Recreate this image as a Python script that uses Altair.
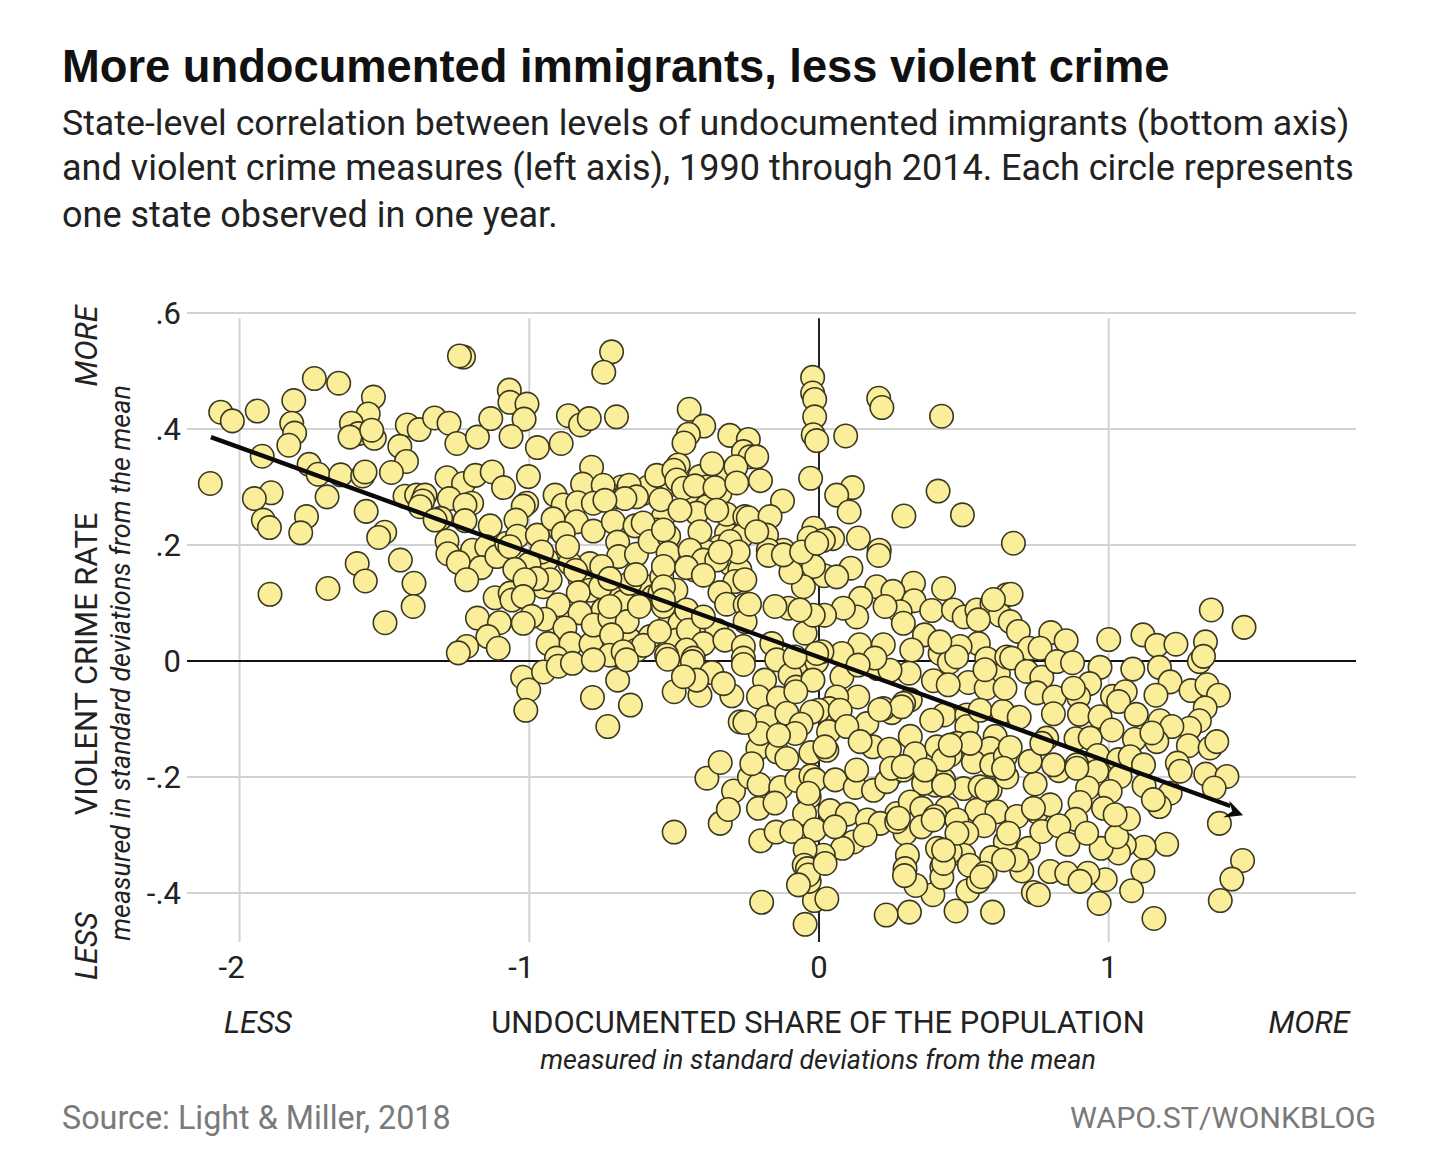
import altair as alt
import pandas as pd

west = [(-1.227,.524),(-1.241,.526),(-1.742,.487),(-1.658,.479),(-1.538,.455),(-1.813,.449),(-2.065,.429),(-2.025,.414),(-1.939,.431),
(-1.556,.426),(-1.820,.410),(-1.614,.410),(-1.810,.393),(-1.830,.372),(-1.590,.392),(-1.535,.384),(-1.619,.386),(-1.544,.398),
(-1.421,.407),(-1.380,.399),(-1.327,.419),(-1.277,.410),(-1.250,.375),(-1.179,.386),(-1.133,.418),(-1.447,.370),(-1.424,.344),(-1.476,.325),
(-1.922,.353),(-2.101,.306),(-1.760,.339),(-1.729,.322),(-1.698,.283),(-1.651,.321),(-1.575,.319),(-1.567,.326),
(-1.891,.290),(-1.949,.280),(-1.918,.243),(-1.897,.230),(-1.769,.249),(-1.789,.221),(-1.563,.258),(-1.499,.222),(-1.520,.213),
(-1.594,.168),(-1.566,.138),(-1.445,.174),(-1.398,.134),(-1.401,.094),(-1.498,.066),(-1.895,.115),(-1.695,.125),
(-1.284,.316),(-1.227,.306),(-1.186,.320),(-1.128,.326),(-1.089,.299),(-1.429,.284),(-1.389,.286),(-1.360,.286),(-1.368,.276),(-1.377,.266),
(-1.276,.280),(-1.199,.272),(-1.222,.269),(-1.306,.246),(-1.325,.243),(-1.222,.242),(-1.135,.233),
(-1.284,.207),(-1.281,.185),(-1.196,.191),(-1.147,.197),(-1.245,.170),(-1.167,.161),(-1.112,.180),(-1.216,.140),(-1.078,.203),
(-1.118,.109),(-1.066,.117),(-1.060,.105),(-1.179,.074),(-1.103,.066),(-1.143,.042),(-1.216,.025),(-1.245,.014),(-1.107,.022)]

mid_west = [(-.716,.533),(-.743,.498),(-1.069,.467),(-1.067,.446),(-1.008,.443),(-1.018,.417),(-1.063,.387),(-.972,.368),(-.890,.375),
(-.865,.423),(-.823,.407),(-.793,.418),(-.699,.421),(-.448,.434),(-.398,.405),(-.451,.391),(-.466,.376),(-.308,.389),(-.244,.382),(-.261,.361),(-.238,.352),
(-.785,.334),(-.816,.305),(-.745,.303),(-.655,.303),(-.630,.283),(-.670,.280),(-.681,.286),(-.560,.320),(-.486,.338),(-.501,.329),(-.491,.312),(-.468,.298),(-.428,.302),(-.369,.340),(-.359,.299),(-.287,.335),(-.284,.307),(-.546,.278),(-.480,.260),
(-1.003,.318),(-1.009,.272),(-1.021,.267),(-1.046,.243),(-1.041,.215),(-.972,.217),(-.911,.286),(-.883,.269),(-.833,.273),(-.779,.272),(-.739,.277),(-.918,.245),(-.837,.240),(-.779,.224),(-.710,.240),(-.635,.233),(-.607,.238),(-.695,.205),(-.692,.180),(-.630,.184),(-.583,.206),(-.519,.215),(-.537,.226),(-.411,.223),(-.521,.186),(-.445,.191),(-.319,.253),(-.353,.260),(-.256,.249),(-.267,.215),(-.307,.206),(-.279,.188),
(-.883,.220),(-.868,.197),(-.957,.188),(-1.067,.197),(-1.001,.167),(-1.050,.158),(-.928,.140),(-.975,.142),(-1.015,.140),(-.840,.156),(-.796,.168),(-.750,.163),(-.754,.128),(-.722,.142),(-.632,.149),(-.543,.145),(-.537,.163),(-.430,.157),(-.399,.174),(-.353,.174),(-.457,.161),(-.399,.148),(-.494,.122),(-.537,.128),(-.290,.137),(-.256,.140),(-.342,.118),(-.319,.098),(-.255,.097),
(-1.052,.106),(-1.067,.117),(-1.021,.111),(-.831,.118),(-.900,.097),(-.825,.083),(-.946,.072),(-.992,.077),(-1.021,.065),(-.877,.057),(-.935,.030),(-.856,.030),(-.787,.029),(-.779,.062),(-.722,.074),(-.662,.068),(-.716,.045),(-.722,.094),(-.620,.094),(-.606,.027),(-.551,.051),(-.537,.094),(-.457,.088),(-.451,.053),(-.399,.076),(-.399,.030),(-.457,.019),(-.325,.036),(-.261,.025),(-.255,.068),(-.526,.010),(-.434,.005),(-.722,.010),(-.676,.016),(-.261,.005),(-.906,.005)]

center_top = [(-.022,.489),(-.022,.462),(-.015,.451),(-.015,.421),(-.008,.418),(-.020,.390),(-.008,.380),(.092,.388),(.206,.453),(.217,.437),(.423,.422),(-.241,.381),(-.215,.352),(-.202,.311),(-.029,.315),(.115,.299),(.061,.286),(.104,.257),(.411,.293),(.293,.250),(.495,.252),(.671,.203),(-.126,.276),(-.244,.247),(-.169,.249),(-.181,.217),(-.018,.229),(-.034,.212),(.047,.211),(.015,.208),(.136,.212),(-.256,.217),(-.123,.191),(-.175,.191),(.208,.191)]

lower_left = [(-1.023,-.028),(-1.002,-.050),(-1.012,-.085),(-.951,-.019),(-.900,-.009),(-.851,-.004),(-.779,.002),(-.723,.006),(-.675,.012),(-.934,.024),(-.859,.027),(-.788,.027),(-.606,.025),(-.695,-.033),(-.782,-.063),(-.651,-.076),(-.729,-.113),(-.522,.003),(-.500,-.053),(-.437,-.001),(-.370,-.020),(-.411,-.059),(-.457,.016),(-.387,-.202),(-.341,-.175),(-.500,-.295),(-.341,-.280),(-.422,-.033),(-.468,-.027)]

center = [(.206,.182),(.326,.134),(.430,.125),(.199,.128),(.255,.120),(.328,.104),(.389,.087),(.280,.085),(.228,.094),(.291,.065),(.364,.045),(.464,.088),(.501,.076),(.545,.088),(.597,.099),(.648,.114),(.625,.079),(.660,.068),(.550,.071),
(.140,.028),(.222,.028),(.320,.019),(.418,.013),(.450,-.002),(.550,.030),(.487,.025),(.619,-.022),(.516,-.037),(.395,-.034),(.311,-.021),(.202,-.013),(.245,-.016),(.079,.013),(.579,.004),(.648,.007),(.577,-.047),
(.110,.160),(.144,.108),(.130,.076),(.084,.091),(.018,.147),(.061,.145),(.019,.079),(-.019,.163),(-.054,.128),(-.097,.153),(-.105,.091),(-.152,.094),(-.048,.048),(-.175,.182),(-.123,.183),(-.276,.187),(-.341,.188),(-.422,.156),(-.249,.140),(-.401,.151),(-.316,.098),(-.341,.119),(-.240,.098),(-.244,.067),(-.399,.076),(-.163,.030),(-.261,.025),(-.318,.039),(-.399,.030),(-.433,.048),(-.428,-.004),(-.367,-.020),(-.261,-.006),(-.146,.002),(-.077,-.004),(-.008,-.001),(.079,-.027),(.010,.016),
(-.188,-.033),(-.100,-.024),(-.079,-.045),(-.021,-.033),(-.408,-.059),(-.301,-.060),(-.209,-.062),(-.140,-.064),(-.330,-.039),(.134,-.062),(.061,-.062),(.035,-.082),(-.002,-.085),(-.025,-.088),(.073,-.085),(.251,-.089),(.222,-.082),(.165,-.108),(.315,-.067),(.292,-.073),(.432,-.093),(.389,-.102),(.510,-.093),(.510,-.113),(.556,-.085),(.634,-.087),(.608,-.130),
(-.272,-.105),(-.180,-.097),(-.111,-.090),(-.062,-.109),(.033,-.122),(-.082,-.125),(.096,-.113),(-.211,-.151),(-.144,-.157),(-.111,-.168),(-.028,-.158),(.027,-.154),(-.203,-.125),(-.140,-.128),(.186,-.148),(.243,-.152),(.315,-.130),(.332,-.160),(.433,-.163),(.407,-.148),(.476,-.142),(.591,-.151),(.533,-.174),(.596,-.179),(.643,-.165),(.522,-.142),(.142,-.139),
(-.336,-.175),(-.385,-.204),(-.295,-.224),(-.240,-.200),(-.207,-.213),(-.232,-.177),(-.132,-.218),(-.077,-.206),(-.028,-.198),(-.013,-.205),(.056,-.205),(.125,-.218),(.130,-.188),(.188,-.223),(.251,-.195),(.234,-.208),(.291,-.188),(.401,-.214),(.361,-.211),(.430,-.205),(.499,-.220),(.556,-.217),(.591,-.222),(.648,-.200),
(-.313,-.256),(-.341,-.282),(-.209,-.254),(-.152,-.245),(-.034,-.234),(-.050,-.263),(.038,-.258),(.098,-.264),(.167,-.274),(.268,-.263),(.315,-.243),(.355,-.254),(.441,-.254),(.401,-.268),(.545,-.257),(.614,-.260),(.570,-.284),(.476,-.274),(.297,-.297),(.510,-.297),(.643,-.312),(.211,-.280),(.268,-.277),
(-.201,-.310),(-.148,-.295),(-.094,-.294),(-.015,-.291),(.119,-.312),(.081,-.323),(.015,-.335),(-.048,-.325),(-.051,-.352),(-.040,-.358),(.305,-.335),(.409,-.323),(.499,-.335),(.596,-.339),(.453,-.329),(.297,-.358),(.424,-.355)]

bottom = [(-.198,-.416),(-.048,-.454),(-.016,-.413),(.027,-.410),(-.034,-.380),(-.037,-.369),(-.052,-.356),(-.071,-.386),(.232,-.438),(.312,-.433),(.473,-.431),(.599,-.433),(.393,-.403),(.334,-.387),(.295,-.370),(.306,-.334),(.424,-.373),(.514,-.396),(.550,-.380),(.430,-.349),(.502,-.336),(.519,-.352),(.573,-.366),(.654,-.315),(.700,-.362),(.740,-.399),(.757,-.403),(.723,-.323),(.798,-.363),(.683,-.343),(.637,-.343),(.015,-.337),(.021,-.349),(-.052,-.325),(.683,-.268),(.752,-.260),(.769,-.294),(.746,-.212),(.798,-.248)]

east = [(1.354,.088),(1.467,.058),(1.000,.037),(1.118,.045),(1.166,.027),(1.232,.029),(1.334,.033),(1.313,-.001),(1.327,.008),
(.663,.115),(.602,.106),(.545,.091),(.502,.077),(.464,.085),(.550,.071),(.625,.080),(.668,.068),(.688,.051),(.441,.123),(.800,.049),(.853,.035),(.726,.022),(.763,.022),(.665,.005),(.550,.031),(.487,.025),(.453,-.002),(.573,.005),(.622,-.022),(.717,-.018),(.769,-.028),(.821,-.001),(.875,-.003),(.970,-.011),(1.083,-.014),(1.175,-.011),(.934,-.039),(1.212,-.036),(1.284,-.051),(1.339,-.041),(1.379,-.059),(1.163,-.059),(1.013,-.061),(1.057,-.053),(1.034,-.070),(.518,-.037),(.642,-.047),(.573,-.050),(.752,-.055),(.812,-.062),(.896,-.062),(.878,-.047),(1.333,-.081),(1.095,-.092),(1.177,-.103),(1.313,-.103),(1.279,-.116),(1.218,-.113),(.809,-.091),(.691,-.097),(.629,-.087),(.899,-.092),(.970,-.096),(.516,-.093),(.550,-.087),(1.011,-.119),(1.166,-.139),(1.275,-.146),(1.350,-.150),(1.373,-.139),(1.089,-.135),(1.149,-.124),
(.887,-.134),(.936,-.133),(.786,-.133),(.608,-.130),(.660,-.149),(.591,-.150),(.729,-.173),(.453,-.162),(.533,-.173),(.637,-.185),(.596,-.181),(.962,-.163),(1.034,-.170),(1.074,-.165),(1.120,-.179),(.828,-.189),(.809,-.179),(.890,-.179),(.959,-.190),(1.039,-.199),(1.122,-.215),(1.237,-.176),(1.247,-.190),(1.335,-.195),(1.408,-.199),(1.364,-.219),(1.212,-.228),(1.175,-.251),(1.154,-.239),(.746,-.207),(.927,-.219),(1.005,-.225),(.499,-.219),(.545,-.216),(.579,-.222),(.441,-.208),
(1.382,-.280),(1.462,-.344),(1.425,-.376),(1.385,-.413),(1.200,-.316),(1.122,-.321),(1.118,-.362),(1.079,-.396),(1.156,-.444),(.967,-.418),(.988,-.377),(.928,-.366),(.855,-.366),(.809,-.364),(.901,-.380),(1.054,-.317),(1.034,-.331),(.974,-.323),(1.028,-.303),(1.068,-.272),(.982,-.254),(1.022,-.265),(.901,-.244),(.886,-.273),(.828,-.284),(.809,-.248),(.752,-.259),(.740,-.254),(.771,-.295),(.859,-.316),(.924,-.297),(.685,-.268),(.608,-.257),(.568,-.284),(.545,-.257),(.476,-.297),(.447,-.254),(.654,-.297),(.654,-.314),(.596,-.339),(.725,-.323),(.698,-.362),(.562,-.372),(.501,-.335),(.516,-.349),(.513,-.394),(.430,-.326),(.424,-.372),(.740,-.399),(.759,-.403),(.473,-.431),(.599,-.433),(.430,-.170)]

dense_a = [(-.629,.149),(-.543,.147),(-.491,.122),(-.537,.105),(-.428,.157),(-.399,.174),(-.445,.186),(-.520,.214),(-.411,.220),(-.526,.186),(-.359,.177),(-.342,.120),(-.316,.099),(-.250,.140),(-.273,.189),(-.259,.217),(-.175,.183),(-.098,.152),(-.106,.092),(-.152,.097),(-.240,.099),(-.244,.068),(-.394,.078),(-.457,.088),(-.620,.094),(-.658,.068),(-.552,.051),(-.451,.052),(-.606,.028),(-.399,.033),(-.324,.036),(-.259,.026),(-.163,.030),(-.052,.049),(-.526,.003),(-.437,.003),(-.468,.019),(-.261,-.006),(-.367,-.018),(-.146,.002),(-.186,-.033),(-.079,-.044),(-.100,-.021),(-.296,-.056),(-.411,-.056),(-.503,-.050),(-.336,-.041),(-.008,.013),(-.083,.007),(-.031,-.030),(-.020,.079),(-.066,.088),(-.043,.128),(-.060,.188),(-.008,.203),(-.215,.223),(-.664,.002)]

dense_b = [(.026,.079),(.084,.089),(.139,.028),(.222,.028),(.320,.019),(.363,.045),(.279,.085),(.329,.100),(.389,.087),(.500,.077),(.552,.071),(.550,.031),(.661,.068),(.450,-.002),(.412,.010),(.394,-.034),(.517,-.037),(.619,-.022),(.308,-.021),(.201,-.013),(.081,.013),(.078,-.028),(.133,-.063),(.038,-.082),(.032,-.122),(.164,-.107),(.248,-.090),(.219,-.082),(.314,-.128),(.242,-.152),(.331,-.160),(.431,-.163),(.429,-.093),(.388,-.102),(.512,-.093),(.509,-.116),(.607,-.130),(.624,-.087),(.688,-.096),(.659,-.148),(.590,-.151),(.532,-.171),(.400,-.145),(.176,-.145),(.130,-.185),(.250,-.185),(.193,.005),(.314,-.073),(.285,-.079),(.135,-.007),(.573,-.015),(.642,-.047),(.446,-.041),(.475,.007),(.417,.033),(.233,.091),(.463,.088),(.624,.082),(.665,.005)]

dense_c = [(.136,-.063),(.035,-.082),(-.003,-.082),(-.026,-.087),(.072,-.082),(-.179,-.097),(-.212,-.063),(-.146,-.067),(-.080,-.053),(-.060,-.110),(-.083,-.125),(-.146,-.128),(.032,-.122),(.098,-.113),(.167,-.107),(.251,-.089),(.210,-.084),(.314,-.128),(.245,-.152),(.182,-.145),(.331,-.159),(-.256,-.106),(-.213,-.151),(-.144,-.157),(-.028,-.157),(.020,-.148),(-.123,-.168),(-.225,-.179),(-.206,-.213),(-.248,-.199),(-.135,-.218),(-.081,-.205),(-.028,-.198),(-.018,-.205),(-.037,-.228),(.055,-.205),(.124,-.217),(.132,-.188),(.185,-.222),(.254,-.195),(.233,-.208),(.291,-.182),(.314,-.243),(-.210,-.254),(-.152,-.245),(-.052,-.261),(.038,-.258),(.098,-.264),(.167,-.273),(.266,-.261),(.274,-.271),(.354,-.254),(.394,-.214),(.366,-.188),(.300,-.294),(.222,-.277),(-.204,-.310),(-.154,-.294),(-.095,-.294),(-.015,-.292),(.124,-.311),(.078,-.323),(.009,-.332),(-.052,-.325),(.159,-.300),(.308,-.332),(.406,-.323),(.354,-.286),(.394,-.274),(.055,-.286)]

dense_d = [(.441,-.093),(.510,-.093),(.510,-.113),(.629,-.087),(.691,-.097),(.809,-.091),(.899,-.091),(.970,-.096),(1.011,-.061),(1.091,-.093),(1.011,-.119),(.887,-.134),(.936,-.134),(.769,-.142),(.608,-.130),(.660,-.149),(.591,-.151),(.533,-.174),(.441,-.163),(.453,-.145),(.599,-.181),(.642,-.185),(.726,-.174),(.828,-.190),(.809,-.182),(.959,-.162),(.965,-.194),(1.039,-.199),(1.034,-.168),(1.074,-.165),(.890,-.185),(.746,-.207),(.927,-.220),(1.007,-.225),(.499,-.218),(.545,-.214),(.585,-.222),(.430,-.214),(.447,-.254),(.545,-.256),(.614,-.258),(.570,-.284),(.510,-.297),(.470,-.274),(.654,-.316),(.654,-.297),(.685,-.268),(.752,-.260),(.744,-.254),(.809,-.248),(.901,-.244),(.982,-.254),(1.022,-.266),(1.068,-.272),(.884,-.273),(.826,-.284),(.771,-.297),(.928,-.300),(.859,-.316),(.974,-.323),(1.054,-.317),(1.028,-.303),(.596,-.337),(.430,-.326),(.499,-.333),(.723,-.326)]

# Circles mostly hidden under others in the crowded left-centre; drawn first so they stay underneath.
hidden = [(-.681,.300),(-.699,.283),(-.664,.289),(-.607,.289),(-.589,.300),(-.520,.303),(-.509,.309),(-.411,.318),(-.330,.324),(-.388,.300),(-.342,.289),(-.434,.272),(-.388,.266),(-.422,.255),(-.537,.249),(-.560,.226),(-.583,.214),(-.319,.220),(-.342,.197),(-.491,.174),(-.457,.174),(-.388,.188),(-.307,.168),(-.273,.157),(-.595,.128),(-.572,.111),(-.549,.117),(-.699,.111),(-.745,.088),(-.676,.102),(-.653,.134),(-.791,.168),(-.894,.226),(-.940,.174),(-.952,.128),(-.825,.142),(-.791,.122),(-.860,.168),(-.652,.036),(-.583,.042),(-.515,.065),(-.480,.065),(-.422,.053),(-.353,.053),(-.699,.010),(-.629,.019),(-.491,.036)]

# The close-up readings repeat circles already read in the wider crops; keep each circle once.
readings = hidden + west + mid_west + center_top + lower_left + center + bottom + east + dense_a + dense_b + dense_c + dense_d
points = []
for px_, py_ in readings:
    if not any(abs(px_ - a) < .012 and abs(py_ - b) < .006 for a, b in points):
        points.append((px_, py_))
points_df = pd.DataFrame(points, columns=["x", "y"])

light_h = [.6, .4, .2, -.2, -.4]
light_v = [-2, -1, 1]
trend_x = [-2.099, 1.42]
trend_y = [.386, -.25]
tip_x = [1.464]
tip_y = [-.266]
y_tick_vals = [.6, .4, .2, 0, -.2, -.4]
y_tick_text = [".6", ".4", ".2", "0", "-.2", "-.4"]
x_neg_vals = [-2, -1]
x_neg_text = ["-2", "-1"]
x_pos_vals = [0, 1]
x_pos_text = ["0", "1"]

XDOM = [-2.1815, 1.8535]
YDOM = [-.4845, .6]
OX, OY = 187, 313
W, H = 1169, 629

sx = alt.Scale(domain=XDOM, nice=False, zero=False)
sy = alt.Scale(domain=YDOM, nice=False, zero=False)
X = lambda f="x": alt.X(f"{f}:Q", scale=sx, axis=None)
Y = lambda f="y": alt.Y(f"{f}:Q", scale=sy, axis=None)

hgrid = alt.Chart(pd.DataFrame({"y": light_h})).mark_rule(color="#d2d2d2", strokeWidth=2).encode(y=Y())
vgrid = alt.Chart(pd.DataFrame({"x": light_v, "top": [.591]*3, "bot": [YDOM[0]]*3})).mark_rule(color="#d2d2d2", strokeWidth=2).encode(
    x=X(), y=Y("top"), y2="bot")
h0 = alt.Chart(pd.DataFrame({"y": [0]})).mark_rule(color="#111111", strokeWidth=1.8).encode(y=Y())
v0 = alt.Chart(pd.DataFrame({"x": [0], "top": [.591], "bot": [YDOM[0]]})).mark_rule(color="#222222", strokeWidth=2).encode(
    x=X(), y=Y("top"), y2="bot")

dots = alt.Chart(points_df).mark_circle(size=550, color="#fbee9a", stroke="#3a3820", strokeWidth=1.6, opacity=1).encode(x=X(), y=Y())

line = alt.Chart(pd.DataFrame({"x": trend_x, "y": trend_y})).mark_line(color="#0a0a0a", strokeWidth=4.4).encode(x=X(), y=Y())
head = alt.Chart(pd.DataFrame({"x": tip_x, "y": tip_y})).mark_point(
    shape="M0,0 L0.5,1 L0,0.65 L-0.5,1 Z", size=1300, angle=110, filled=True, color="#0a0a0a", opacity=1
).encode(x=X(), y=Y())

TICK = dict(fontSize=31, font="Roboto", color="#222222", clip=False, dy=2)
tick_y = alt.Chart(pd.DataFrame({"y": y_tick_vals, "t": y_tick_text})).mark_text(align="right", dx=-6, **TICK).encode(
    x=alt.value(0), y=Y(), text="t:N")
tick_neg = alt.Chart(pd.DataFrame({"x": x_neg_vals, "t": x_neg_text})).mark_text(dx=-8, **TICK).encode(
    x=X(), y=alt.value(967 - OY), text="t:N")
tick_pos = alt.Chart(pd.DataFrame({"x": x_pos_vals, "t": x_pos_text})).mark_text(**TICK).encode(
    x=X(), y=alt.value(967 - OY), text="t:N")

def page_text(text, px, py, size, font="Roboto", color="#222222", weight="normal", style="normal", align="left", angle=0):
    kw = dict(text=text, fontSize=size, font=font, color=color, fontWeight=weight, fontStyle=style,
              align=align, baseline="middle")
    if angle:
        kw["angle"] = angle
    return alt.Chart(pd.DataFrame({"a": [0]})).mark_text(**kw).encode(x=alt.value(px - OX), y=alt.value(py - OY))

texts = [
    page_text("More undocumented immigrants, less violent crime", 62, 68, 45.3, font="Liberation Sans", color="#111111", weight="bold"),
    page_text("State-level correlation between levels of undocumented immigrants (bottom axis)", 62, 124, 35.7),
    page_text("and violent crime measures (left axis), 1990 through 2014. Each circle represents", 62, 169, 36),
    page_text("one state observed in one year.", 62, 216, 36),
    page_text("MORE", 88, 346, 30.5, style="italic", align="center", angle=270),
    page_text("VIOLENT CRIME RATE", 88, 664, 30.8, align="center", angle=270),
    page_text("LESS", 88, 946, 30.5, style="italic", align="center", angle=270),
    page_text("measured in standard deviations from the mean", 122, 663, 26.9, style="italic", align="center", angle=270),
    page_text("LESS", 258, 1024, 30.5, style="italic", align="center"),
    page_text("UNDOCUMENTED SHARE OF THE POPULATION", 818, 1024, 30.8, align="center"),
    page_text("MORE", 1309, 1024, 30.5, style="italic", align="center"),
    page_text("measured in standard deviations from the mean", 818, 1061, 26.9, style="italic", align="center"),
    page_text("Source: Light & Miller, 2018", 62, 1119, 32.3, color="#7a7a7a"),
    page_text("WAPO.ST/WONKBLOG", 1376, 1119, 30.4, color="#7a7a7a", align="right"),
]

chart = alt.layer(
    hgrid, vgrid, h0, v0, dots, line, head, tick_y, tick_neg, tick_pos, *texts
).properties(
    width=W, height=H,
    padding={"left": OX - 8, "top": OY - 8, "right": 60, "bottom": 210},
    autosize=alt.AutoSizeParams(type="none"),
).configure_view(stroke=None)

chart.save("out.html", embed_options={"renderer": "svg", "actions": False})
